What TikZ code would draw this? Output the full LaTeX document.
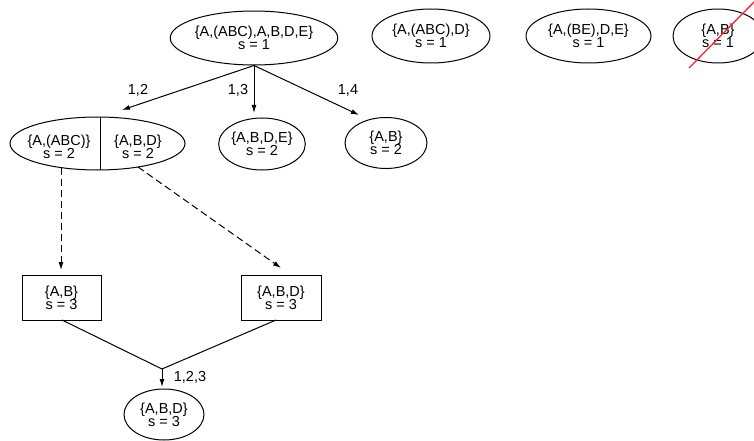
\documentclass[tikz,border=0pt]{standalone}
\usepackage{fontspec}
\setmainfont{Liberation Sans}
\usetikzlibrary{arrows.meta,shapes.geometric}
\setlength{\lineskiplimit}{-20pt}
\begin{document}
\begin{tikzpicture}[x=1pt,y=-1pt,
  every node/.style={font=\fontsize{14.5}{12.8}\selectfont},
  ell/.style={draw,ellipse,inner sep=0pt,align=center,line width=1pt},
  bx/.style={draw,rectangle,inner sep=0pt,align=center,minimum width=80pt,minimum height=45pt,line width=1pt},
  lbl/.style={inner sep=0pt},
  conn/.style={line width=1pt},
  arr/.style={line width=1pt,-{Latex[length=8pt,width=5pt]}},
  darr/.style={line width=1pt,dash pattern=on 7pt off 4pt,-{Latex[length=8pt,width=5pt]}}
]
\useasboundingbox (0,0) rectangle (754,441);
\clip (0,0) rectangle (754,441);
% top row
\node[ell,minimum width=138pt,minimum height=54pt] (top) at (254,38) {\{A,(ABC),A,B,D,E\}\\s = 1};
\node[ell,minimum width=118pt,minimum height=54pt] (t2) at (431,36) {\{A,(ABC),D\}\\s = 1};
\node[ell,minimum width=125pt,minimum height=54pt] (t3) at (588.5,36) {\{A,(BE),D,E\}\\s = 1};
\node[ell,minimum width=90pt,minimum height=54pt] (t4) at (718,36) {\{A,B\}\\s = 1};
\coordinate (r1) at (689,68);
\coordinate (r2) at (757,-1);
\draw[line width=1.3pt,color={rgb,255:red,245;green,35;blue,45}] (r1) -- (r2);
% second row
\node[ell,minimum width=175pt,minimum height=53pt] (split) at (97.5,143.5) {};
\coordinate (sp1) at (100,117);
\coordinate (sp2) at (100,170);
\draw[conn] (sp1) -- (sp2);
\node[lbl,align=center] (sl) at (59,147) {\{A,(ABC)\}\\s = 2};
\node[lbl,align=center] (sr) at (138,147) {\{A,B,D\}\\s = 2};
\node[ell,minimum width=82pt,minimum height=52pt] (n13) at (262,144) {\{A,B,D,E\}\\s = 2};
\node[ell,minimum width=82pt,minimum height=51pt] (n14) at (386,143) {\{A,B\}\\s = 2};
% arrows from top
\coordinate (a12) at (122,110);
\coordinate (a13) at (254,113);
\coordinate (a14) at (359,115);
\draw[arr] (top.south) -- (a12);
\draw[arr] (top.south) -- (a13);
\draw[arr] (top.south) -- (a14);
\node[lbl] (l12) at (138,90) {1,2};
\node[lbl] (l13) at (238,90) {1,3};
\node[lbl] (l14) at (348,90) {1,4};
% boxes
\node[bx,minimum width=79pt] (b1) at (61.5,297.5) {\{A,B\}\\s = 3};
\node[bx] (b2) at (281,297.5) {\{A,B,D\}\\s = 3};
\coordinate (d1s) at (61,168);
\coordinate (d1e) at (61,270);
\coordinate (d2s) at (138,167);
\coordinate (d2e) at (281,268);
\draw[darr] (d1s) -- (d1e);
\draw[darr] (d2s) -- (d2e);
% join
\coordinate (j) at (162,369);
\coordinate (b1o) at (62,320);
\coordinate (b2o) at (276,320);
\coordinate (je) at (162,387);
\draw[conn] (b1o) -- (j) -- (b2o);
\draw[arr] (j) -- (je);
\node[lbl] (l123) at (190,377) {1,2,3};
\node[ell,minimum width=80pt,minimum height=51pt] (bot) at (164,414.5) {\{A,B,D\}\\s = 3};
\end{tikzpicture}
\end{document}
